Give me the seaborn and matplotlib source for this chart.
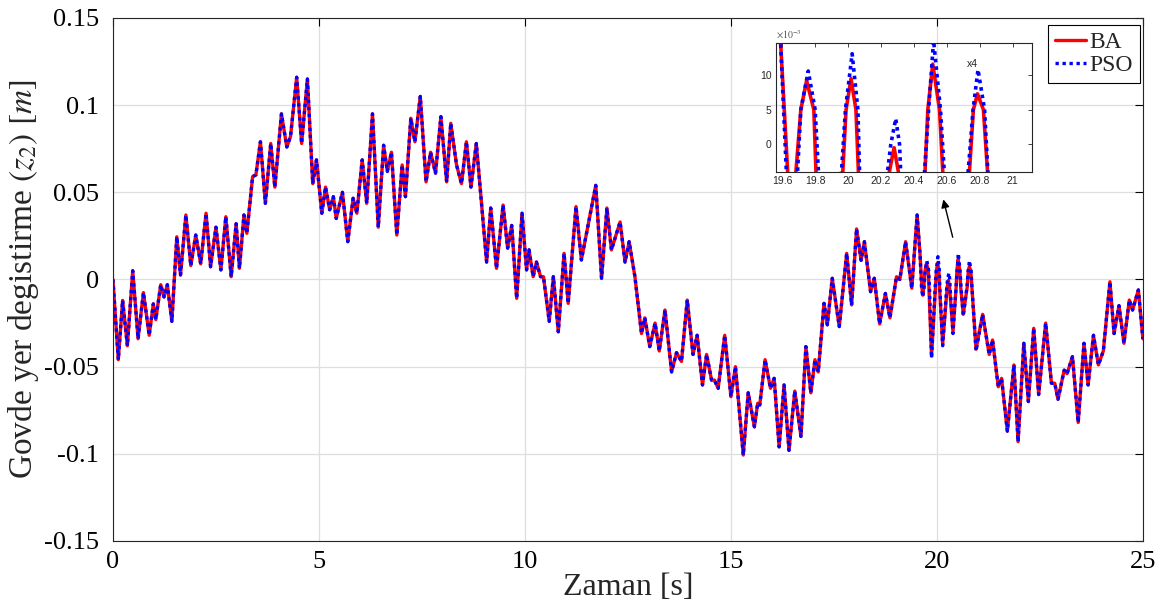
import numpy as np
import pandas as pd
import seaborn as sns
import matplotlib
matplotlib.use("Agg")
import matplotlib.pyplot as plt

# ---------------- data ----------------
t_main = [0.00, 0.13, 0.235, 0.35, 0.48, 0.61, 0.74, 0.88, 0.98, 1.04, 1.16, 1.24, 1.32, 1.43,
          1.55, 1.64, 1.77, 1.89, 2.01, 2.13, 2.26, 2.37, 2.50, 2.62, 2.74, 2.87, 2.99, 3.07,
          3.18, 3.25, 3.39, 3.47, 3.58, 3.70, 3.83, 3.93, 4.09, 4.22, 4.31, 4.46, 4.58, 4.72,
          4.85, 4.94, 5.07, 5.16, 5.26, 5.35, 5.42, 5.57, 5.70, 5.83, 5.92, 6.05, 6.16, 6.30,
          6.44, 6.57, 6.66, 6.76, 6.89, 7.02, 7.10, 7.23, 7.33, 7.46, 7.60, 7.71, 7.83, 7.96,
          8.10, 8.20, 8.34, 8.46, 8.58, 8.69, 8.82, 9.07, 9.17, 9.31, 9.47, 9.58, 9.68, 9.80,
          9.93, 10.04, 10.10, 10.20, 10.28, 10.38, 10.45, 10.59, 10.69, 10.81, 10.95, 11.05,
          11.24, 11.37, 11.72, 11.86, 11.99, 12.10, 12.31, 12.43, 12.53, 12.67, 12.83, 12.91,
          13.03, 13.16, 13.26, 13.40, 13.56, 13.68, 13.80, 13.94, 14.08, 14.18, 14.31, 14.41,
          14.53, 14.60, 14.69, 14.85, 15.00, 15.11, 15.30, 15.42, 15.57, 15.65, 15.70, 15.83,
          15.96, 16.05, 16.17, 16.29, 16.41, 16.55, 16.70, 16.82, 16.94, 17.04, 17.12, 17.26,
          17.34, 17.46, 17.63, 17.81, 17.93, 18.05, 18.16, 18.24, 18.39, 18.48, 18.61, 18.75,
          18.86, 19.02, 19.10, 19.24, 19.39, 19.52]
z_main = [0.000, -0.046, -0.012, -0.038, 0.005, -0.034, -0.0075, -0.032, -0.014, -0.023, -0.003,
          -0.010, -0.003, -0.024, 0.0245, 0.0026, 0.037, 0.008, 0.0255, 0.009, 0.038, 0.0073,
          0.030, 0.0055, 0.036, 0.0016, 0.032, 0.0064, 0.037, 0.0265, 0.059, 0.060, 0.079,
          0.0437, 0.078, 0.053, 0.095, 0.076, 0.082, 0.116, 0.078, 0.115, 0.055, 0.0686, 0.038,
          0.053, 0.040, 0.0475, 0.035, 0.050, 0.0217, 0.0466, 0.038, 0.0686, 0.0437, 0.095,
          0.030, 0.077, 0.062, 0.073, 0.0255, 0.0657, 0.0475, 0.0925, 0.079, 0.105, 0.056,
          0.073, 0.061, 0.0934, 0.056, 0.0896, 0.0657, 0.055, 0.079, 0.053, 0.078, 0.010,
          0.041, 0.0064, 0.0427, 0.018, 0.031, -0.0108, 0.038, 0.0055, 0.017, 0.0016, 0.010,
          0.0016, 0.0016, -0.024, 0.0016, -0.030, 0.015, -0.0137, 0.0418, 0.0112, 0.054,
          0.0007, 0.041, 0.017, 0.033, 0.010, 0.0217, 0.0016, -0.031, -0.022, -0.0385, -0.025,
          -0.041, -0.0175, -0.053, -0.042, -0.047, -0.0118, -0.043, -0.032, -0.0605, -0.043,
          -0.0577, -0.0577, -0.0624, -0.032, -0.0672, -0.050, -0.1007, -0.065, -0.0845, -0.071,
          -0.072, -0.046, -0.0624, -0.0567, -0.096, -0.0605, -0.098, -0.064, -0.090, -0.0385,
          -0.065, -0.046, -0.053, -0.0137, -0.026, 0.0007, -0.027, 0.015, -0.0146, 0.029,
          0.011, 0.0217, -0.007, 0.0007, -0.0255, -0.008, -0.022, 0.0016, 0.0, 0.0217, -0.005,
          0.037]

# zoomed window 19.59 .. 20.95, per method
ba_win_t = [19.59, 19.633, 19.658, 19.683, 19.713, 19.748, 19.792, 19.805, 19.87, 19.968,
            19.988, 20.018, 20.048, 20.063, 20.14, 20.251, 20.28, 20.306, 20.39, 20.468,
            20.485, 20.515, 20.556, 20.576, 20.64, 20.738, 20.762, 20.787, 20.823, 20.848, 20.95]
ba_win_z = [0.0147, -0.004, -0.009, -0.004, 0.005, 0.0092, 0.005, -0.004, -0.044, -0.004,
            0.005, 0.0095, 0.005, -0.004, -0.037, -0.004, -0.0005, -0.004, -0.030, -0.004,
            0.005, 0.0116, 0.005, -0.004, -0.020, -0.004, 0.005, 0.0073, 0.005, -0.004, -0.040]
pso_win_t = [19.59, 19.625, 19.655, 19.693, 19.713, 19.758, 19.80, 19.82, 19.87, 19.96,
             19.984, 20.025, 20.06, 20.07, 20.14, 20.24, 20.26, 20.29, 20.313, 20.32, 20.39,
             20.465, 20.49, 20.52, 20.562, 20.585, 20.64, 20.73, 20.76, 20.79, 20.83, 20.85, 20.95]
pso_win_z = [0.0147, -0.004, -0.010, -0.004, 0.005, 0.0106, 0.005, -0.004, -0.045, -0.004,
             0.005, 0.0131, 0.005, -0.004, -0.038, -0.004, 0.0, 0.0037, 0.0, -0.004, -0.031,
             -0.004, 0.005, 0.0150, 0.005, -0.004, -0.021, -0.004, 0.005, 0.0108, 0.005, -0.004,
             -0.041]

t_end = [21.11, 21.27, 21.35, 21.49, 21.57, 21.71, 21.87, 21.97, 22.11, 22.22, 22.35, 22.47,
         22.64, 22.78, 22.86, 22.94, 23.09, 23.16, 23.29, 23.43, 23.57, 23.67, 23.80, 23.92,
         24.04, 24.20, 24.30, 24.42, 24.54, 24.67, 24.75, 24.89, 25.00]
z_end = [-0.020, -0.043, -0.0347, -0.0615, -0.0567, -0.087, -0.049, -0.093, -0.0366, -0.070,
         -0.028, -0.066, -0.025, -0.0595, -0.0595, -0.0687, -0.052, -0.054, -0.0443, -0.082,
         -0.0366, -0.0605, -0.032, -0.049, -0.041, -0.0013, -0.031, -0.015, -0.0366, -0.0118,
         -0.0175, -0.006, -0.034]

methods = ["BA", "PSO"]
colors = {"BA": "#ff0000", "PSO": "#0000ff"}
x_ticks = [0, 5, 10, 15, 20, 25]
y_ticks = [-0.15, -0.1, -0.05, 0, 0.05, 0.1, 0.15]
y_ticklabels = ["-0.15", "-0.1", "-0.05", "0", "0.05", "0.1", "0.15"]
in_x_ticks = [19.6, 19.8, 20.0, 20.2, 20.4, 20.6, 20.8, 21.0]
in_x_labels = ["19.6", "19.8", "20", "20.2", "20.4", "20.6", "20.8", "21"]
in_y_ticks = [0.0, 0.005, 0.010]
in_y_labels = ["0", "5", "10"]

frames = []
for m, wt, wz in [("BA", ba_win_t, ba_win_z), ("PSO", pso_win_t, pso_win_z)]:
    frames.append(pd.DataFrame({"t": t_main + wt + t_end,
                                "z": z_main + wz + z_end,
                                "method": m}))
df = pd.concat(frames, ignore_index=True)

# ---------------- style ----------------
sns.set_style("white")
plt.rcParams["font.family"] = ["Liberation Serif", "DejaVu Serif"]
plt.rcParams["mathtext.fontset"] = "stix"

fig = plt.figure(figsize=(11.68, 6.14), dpi=100)
ax = fig.add_axes([0.0967, 0.1189, 0.8818, 0.8518])


def draw(axis, lw):
    for m in methods:
        sub = df[df.method == m]
        sns.lineplot(data=sub, x="t", y="z", ax=axis, color=colors[m], lw=lw,
                     estimator=None, sort=False, legend=False,
                     linestyle="-" if m == "BA" else (0, (1.0, 1.1)), label=m)


draw(ax, 2.4)
ax.set_xlim(0, 25)
ax.set_ylim(-0.15, 0.15)
ax.set_xticks(x_ticks)
ax.set_xticklabels([str(v) for v in x_ticks])
ax.set_yticks(y_ticks)
ax.set_yticklabels(y_ticklabels)
ax.grid(True, color="#dedede", lw=0.9)
ax.set_axisbelow(True)
ax.tick_params(direction="in", top=True, right=True, length=6, width=0.8,
               labelsize=19, colors="black")
ax.tick_params(axis="y", pad=10)
ax.tick_params(axis="x", pad=7)
for s in ax.spines.values():
    s.set_color("#262626")
    s.set_linewidth(0.8)
ax.set_xlabel("Zaman [s]", fontsize=23, labelpad=0)
ax.set_ylabel(r"Govde yer degistirme $(z_2)$ $[m]$", fontsize=24, labelpad=2)

handles = ax.get_lines()[:2]
leg = ax.legend(handles, methods, loc="upper right", bbox_to_anchor=(0.997, 0.987),
                borderaxespad=0, fontsize=17, frameon=True, fancybox=False,
                edgecolor="black", framealpha=1, borderpad=0.3, handlelength=1.3,
                handletextpad=0.15, labelspacing=0.05)
leg.get_frame().set_linewidth(0.8)

ax.annotate("", xy=(20.14, 0.0475), xytext=(20.40, 0.0227),
            arrowprops=dict(arrowstyle="-|>", color="black", lw=1.0, mutation_scale=12))

# ---------------- inset ----------------
ax_in = fig.add_axes([0.6641, 0.7194, 0.2197, 0.2111])
ax_in.set_facecolor("none")
draw(ax_in, 2.6)
ax_in.set_xlim(19.56, 21.12)
ax_in.set_ylim(-0.00406, 0.0147)
ax_in.set_xticks(in_x_ticks)
ax_in.set_xticklabels(in_x_labels)
ax_in.set_yticks(in_y_ticks)
ax_in.set_yticklabels(in_y_labels)
ax_in.set_xlabel("")
ax_in.set_ylabel("")
ax_in.tick_params(direction="in", top=True, right=True, length=3, width=0.6,
                  labelsize=7.5, colors="#262626", pad=3)
for lab in ax_in.get_xticklabels() + ax_in.get_yticklabels():
    lab.set_fontfamily(["Liberation Sans", "DejaVu Sans"])
for s in ax_in.spines.values():
    s.set_color("#262626")
    s.set_linewidth(0.8)
ax_in.text(0.0, 1.015, r"$\times10^{-3}$", transform=ax_in.transAxes, fontsize=7,
           color="#505050", ha="left", va="bottom")
ax_in.text(20.72, 0.0112, "x4", fontsize=7.5, color="#262626",
           family=["Liberation Sans", "DejaVu Sans"])

fig.savefig("out.png", dpi=100)
